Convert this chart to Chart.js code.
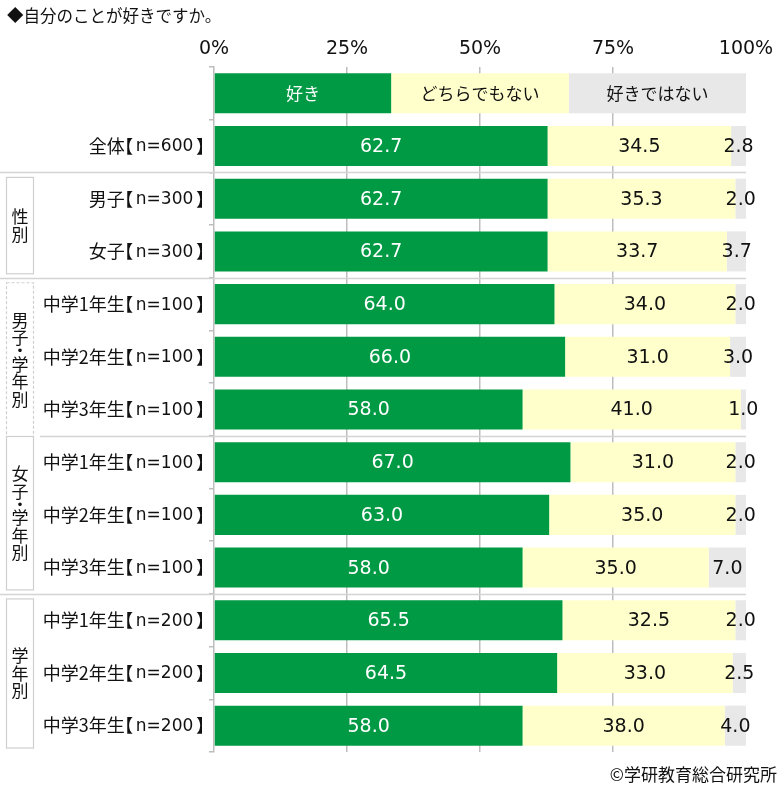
<!DOCTYPE html>
<html lang="ja">
<head>
<meta charset="utf-8">
<script src="https://cdn.jsdelivr.net/npm/chart.js@4.4.0/dist/chart.umd.min.js"></script>
<style>
  html, body { margin: 0; padding: 0; background: #fff; }
  #wrap { width: 783px; height: 793px; }
</style>
</head>
<body>
<div id="wrap"><canvas id="likeChart" width="783" height="793"></canvas></div>
<script>
// --- Data ---
const titleText = '◆自分のことが好きですか。';
const creditText = '©学研教育総合研究所';
const seriesNames = ['好き', 'どちらでもない', '好きではない'];
const categories = [
    '全体【n=600】',
    '男子【n=300】', '女子【n=300】',
    '中学1年生【n=100】', '中学2年生【n=100】', '中学3年生【n=100】',
    '中学1年生【n=100】', '中学2年生【n=100】', '中学3年生【n=100】',
    '中学1年生【n=200】', '中学2年生【n=200】', '中学3年生【n=200】'
];
const likeValues    = [62.7, 62.7, 62.7, 64.0, 66.0, 58.0, 67.0, 63.0, 58.0, 65.5, 64.5, 58.0];
const neutralValues = [34.5, 35.3, 33.7, 34.0, 31.0, 41.0, 31.0, 35.0, 35.0, 32.5, 33.0, 38.0];
const dislikeValues = [2.8, 2.0, 3.7, 2.0, 3.0, 1.0, 2.0, 2.0, 7.0, 2.0, 2.5, 4.0];
// legend row drawn as a bar split in three equal parts
const legendShares = [33.3, 33.4, 33.3];
const xTicks = [0, 25, 50, 75, 100];

// groups: label, first and last row (row 0 = legend row)
const groups = [
    { label: '性別', from: 2, to: 3, dashed: false },
    { label: '男子・学年別', from: 4, to: 6, dashed: true },
    { label: '女子・学年別', from: 7, to: 9, dashed: false },
    { label: '学年別', from: 10, to: 12, dashed: false }
];
// separators drawn below these rows
const separatorsAfter = [1, 3, 6, 9];

const colors = ['#009a44', '#ffffcc', '#e8e8e8'];
const labelColors = ['#ffffff', '#111111', '#111111'];
const jp = '"Noto Sans CJK JP", "Noto Sans", sans-serif';
const mixed = '"DejaVu Sans", "Noto Sans CJK JP", sans-serif';

// draw "中学1年生【n=100】" style labels, right aligned on the ink of 】
function drawCategoryLabel(ctx, text, rightX, cy) {
    const m = text.match(/^(.*)【(.*)】$/);
    if (!m) return;
    const parts = [
        { t: m[1], font: '18px ' + jp, gap: 1.5, dy: 0 },
        { t: '【', font: '18px ' + jp, gap: 3.5, dy: 0 },
        { t: m[2], font: '17px ' + mixed, gap: 3.5, dy: 1 },
        { t: '】', font: '18px ' + jp, gap: 0, dy: 0 }
    ];
    ctx.textAlign = 'left';
    ctx.textBaseline = 'middle';
    let right = rightX;
    for (let i = parts.length - 1; i >= 0; i--) {
        const p = parts[i];
        ctx.font = p.font;
        const mt = ctx.measureText(p.t);
        const x = right - mt.actualBoundingBoxRight;
        ctx.fillText(p.t, x, cy + p.dy);
        const inkLeft = x - mt.actualBoundingBoxLeft;
        if (i > 0) right = inkLeft - parts[i - 1].gap;
    }
}

document.addEventListener('DOMContentLoaded', function() {
    const canvas = document.getElementById('likeChart');

    const rowLabels = [''].concat(categories);
    const seriesData = [likeValues, neutralValues, dislikeValues];
    const datasets = seriesNames.map((name, i) => ({
        label: name,
        data: [legendShares[i]].concat(seriesData[i]),
        backgroundColor: colors[i],
        borderWidth: 0,
        categoryPercentage: 1,
        barPercentage: 0.76
    }));

    // --- text, boxes, separators, value labels ---
    const decorPlugin = {
        id: 'decor',
        afterDatasetsDraw(chart) {
            const ctx = chart.ctx;
            const y = chart.scales.y;
            const x = chart.scales.x;
            const half = (y.getPixelForValue(1) - y.getPixelForValue(0)) / 2;
            const edge = (i) => y.getPixelForValue(i) + half; // bottom of row i
            ctx.save();

            // separators
            ctx.strokeStyle = '#d4d4d4';
            ctx.lineWidth = 1.5;
            separatorsAfter.forEach((row) => {
                const py = Math.round(edge(row)) + 0.5;
                const startX = row === 6 ? 40 : 0;
                ctx.beginPath();
                ctx.moveTo(startX, py);
                ctx.lineTo(x.getPixelForValue(100), py);
                ctx.stroke();
            });

            // category labels
            ctx.fillStyle = '#111';
            chart.data.labels.forEach((lab, i) => {
                if (lab) drawCategoryLabel(ctx, lab, 202, y.getPixelForValue(i));
            });

            // group boxes with vertical text
            groups.forEach((g) => {
                let boxTop = edge(g.from - 1) + 5;
                let boxBottom = edge(g.to) - 4;
                if (g.from === 7) boxTop = Math.round(edge(g.from - 1)) + 0.5;
                if (g.to === 6) boxBottom = Math.round(edge(g.to)) + 0.5;
                ctx.strokeStyle = '#cfcfcf';
                ctx.lineWidth = 1.2;
                ctx.setLineDash(g.dashed ? [3, 2] : []);
                ctx.strokeRect(6.5, boxTop, 27, boxBottom - boxTop);
                ctx.setLineDash([]);

                const chars = Array.from(g.label);
                const steps = chars.map((c) => (c === '・' ? 9 : 17.5));
                const total = steps.reduce((a, b) => a + b, 0);
                let cy = (boxTop + boxBottom) / 2 - total / 2;
                ctx.fillStyle = '#111';
                ctx.font = '17px ' + jp;
                ctx.textAlign = 'center';
                ctx.textBaseline = 'middle';
                chars.forEach((c, i) => {
                    ctx.fillText(c, 20, cy + steps[i] / 2);
                    cy += steps[i];
                });
            });

            // value labels
            chart.data.datasets.forEach((ds, di) => {
                const meta = chart.getDatasetMeta(di);
                meta.data.forEach((bar, idx) => {
                    const cx = (bar.x + bar.base) / 2;
                    ctx.textAlign = 'center';
                    ctx.textBaseline = 'middle';
                    ctx.fillStyle = labelColors[di];
                    if (idx === 0) {
                        ctx.font = '17px ' + jp;
                        ctx.fillText(ds.label, cx, bar.y);
                    } else {
                        ctx.font = '19px ' + mixed;
                        ctx.fillText(ds.data[idx].toFixed(1), cx, bar.y + 1);
                    }
                });
            });

            // title and credit
            ctx.fillStyle = '#111';
            ctx.font = '16.5px ' + jp;
            ctx.textAlign = 'left';
            ctx.textBaseline = 'middle';
            ctx.fillText(titleText, 7, 16);
            ctx.font = '17px ' + jp;
            ctx.textAlign = 'right';
            ctx.fillText(creditText, 777, 775);
            ctx.restore();
        }
    };

    new Chart(canvas.getContext('2d'), {
        type: 'bar',
        data: { labels: rowLabels, datasets: datasets },
        options: {
            indexAxis: 'y',
            responsive: false,
            animation: false,
            layout: { padding: { left: 0, right: 37, top: 0, bottom: 41 } },
            scales: {
                x: {
                    position: 'top',
                    stacked: true,
                    min: 0,
                    max: 100,
                    afterBuildTicks(scale) {
                        scale.ticks = xTicks.map((v) => ({ value: v }));
                    },
                    afterFit(scale) { scale.height = 67; },
                    border: { display: false },
                    grid: {
                        drawTicks: false,
                        color: (c) => (c.tick && c.tick.value > 0 && c.tick.value < 100) ? '#bdbdbd' : 'rgba(0,0,0,0)',
                        lineWidth: 1.5
                    },
                    ticks: {
                        padding: 7,
                        color: '#111',
                        font: { family: mixed, size: 19 },
                        callback: (v) => v + '%'
                    }
                },
                y: {
                    stacked: true,
                    afterFit(scale) { scale.width = 214; },
                    border: { display: true, color: '#bdbdbd', width: 1.5 },
                    grid: {
                        offset: true,
                        drawOnChartArea: false,
                        drawTicks: true,
                        tickLength: 5,
                        color: '#bdbdbd',
                        lineWidth: 1.5
                    },
                    ticks: {
                        autoSkip: false,
                        callback: () => ''
                    }
                }
            },
            plugins: {
                legend: { display: false },
                tooltip: { enabled: false },
                title: { display: false }
            }
        },
        plugins: [decorPlugin]
    });
});
</script>
</body>
</html>
